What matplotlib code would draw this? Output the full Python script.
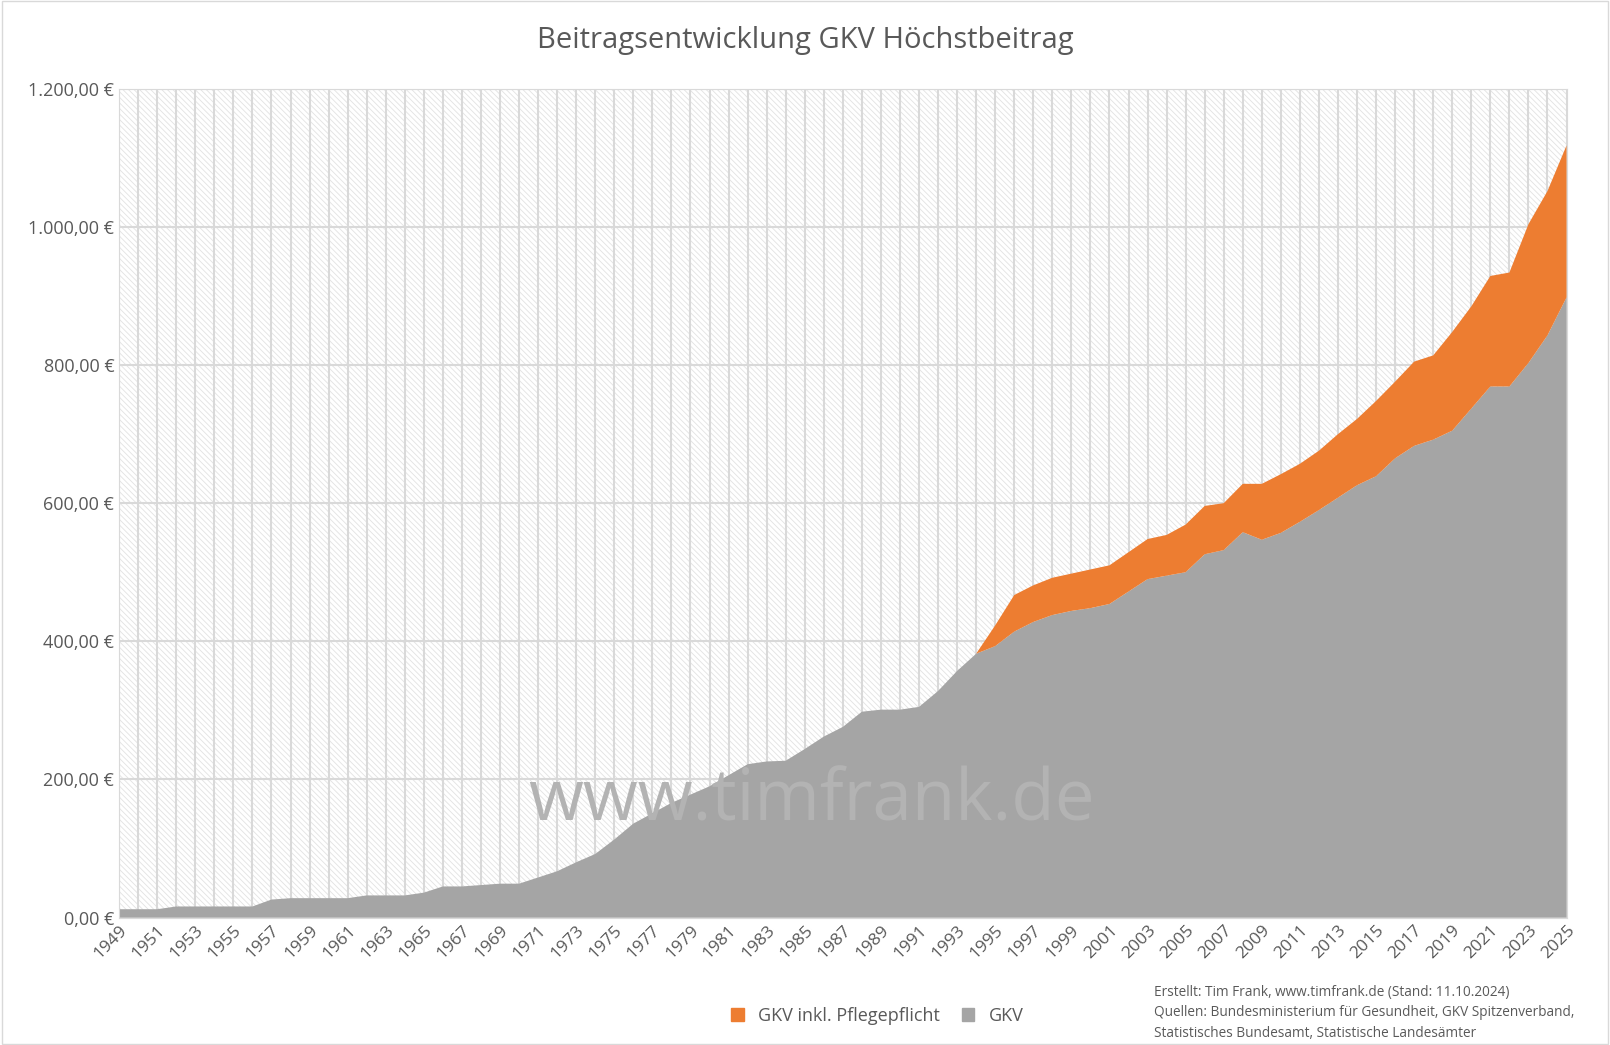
import matplotlib
matplotlib.use("Agg")
import matplotlib.pyplot as plt
import numpy as np
from matplotlib.ticker import FuncFormatter
from matplotlib.patches import Patch, Rectangle

years = list(range(1949, 2026))
gkv = [12,12,12,16,16,16,16,16,26,28,28,28,28,32,32,32,36,45,45,47,49,49,58,67,80,92,113,136,151,166,178,190,206,222,226,227,244,262,276,298,301,301,305,328,357,382,
       393,414,428,438,444,448,454,472,490,495,500,526,532,558,547,557,573,590,608,626,639,665,683,692,705,737,769,769,803,843,898]
total = [None]*45 + [382,423,467,481,492,498,504,510,529,548,554,569,596,600,628,628,642,657,676,700,722,748,776,805,814,848,885,929,934,1004,1052,1118]
pflege = [0 if t is None else t - g for t, g in zip(total, gkv)]
tick_years = years[::2]

plt.rcParams['font.family'] = 'Open Sans'
plt.rcParams['hatch.linewidth'] = 0.6
fig = plt.figure(figsize=(16.1, 10.45), dpi=100)
ax = fig.add_axes([0.074, 0.122, 0.899, 0.793])
ax.set_xlim(years[0], years[-1])
ax.set_ylim(0, 1200)
ax.fill_between([years[0], years[-1]], 0, 1200, facecolor='white', edgecolor='#e2e2e2', hatch='\\\\\\\\\\\\', linewidth=0, zorder=0)
for y in years:
    ax.axvline(y, color='#d9d9d9', lw=1.5, zorder=1)
for v in range(0, 1201, 200):
    ax.axhline(v, color='#d9d9d9', lw=1.5, zorder=1)
ax.stackplot(years, gkv, pflege, colors=['#a5a5a5', '#ed7d31'], zorder=2)
ax.text(0.478, 0.14, 'www.timfrank.de', transform=ax.transAxes, ha='center', va='center',
        fontsize=51, color='#b3b3b3', zorder=3)
ax.set_xticks(tick_years)
ax.set_xticklabels([str(y) for y in tick_years], rotation=45, ha='right', rotation_mode='anchor', fontsize=12.5, color='#595959')
ax.set_yticks(range(0, 1201, 200))
ax.yaxis.set_major_formatter(FuncFormatter(lambda v, p: f"{int(v):,}".replace(',', '.') + ',00 €'))
ax.tick_params(axis='y', labelsize=13, colors='#595959', length=0)
ax.tick_params(axis='x', length=0, colors='#595959')
for s in ax.spines.values():
    s.set_color('#d9d9d9')
fig.text(0.5, 0.961, 'Beitragsentwicklung GKV Höchstbeitrag', ha='center', va='center', fontsize=21, color='#595959')
fig.legend(handles=[Patch(color='#ed7d31', label='GKV inkl. Pflegepflicht'), Patch(color='#a5a5a5', label='GKV')],
           loc='center', bbox_to_anchor=(0.545, 0.028), ncol=2, frameon=False, fontsize=13,
           handlelength=0.7, handleheight=0.7, labelcolor='#595959', columnspacing=1.2)
fig.text(0.717, 0.031, 'Erstellt: Tim Frank, www.timfrank.de (Stand: 11.10.2024)\nQuellen: Bundesministerium für Gesundheit, GKV Spitzenverband,\nStatistisches Bundesamt, Statistische Landesämter',
         ha='left', va='center', fontsize=9.8, color='#595959', linespacing=1.5)
fig.patches.append(Rectangle((0.001, 0.001), 0.998, 0.998, transform=fig.transFigure, fill=False, edgecolor='#d9d9d9', lw=1))
fig.savefig('out.png', dpi=100)
